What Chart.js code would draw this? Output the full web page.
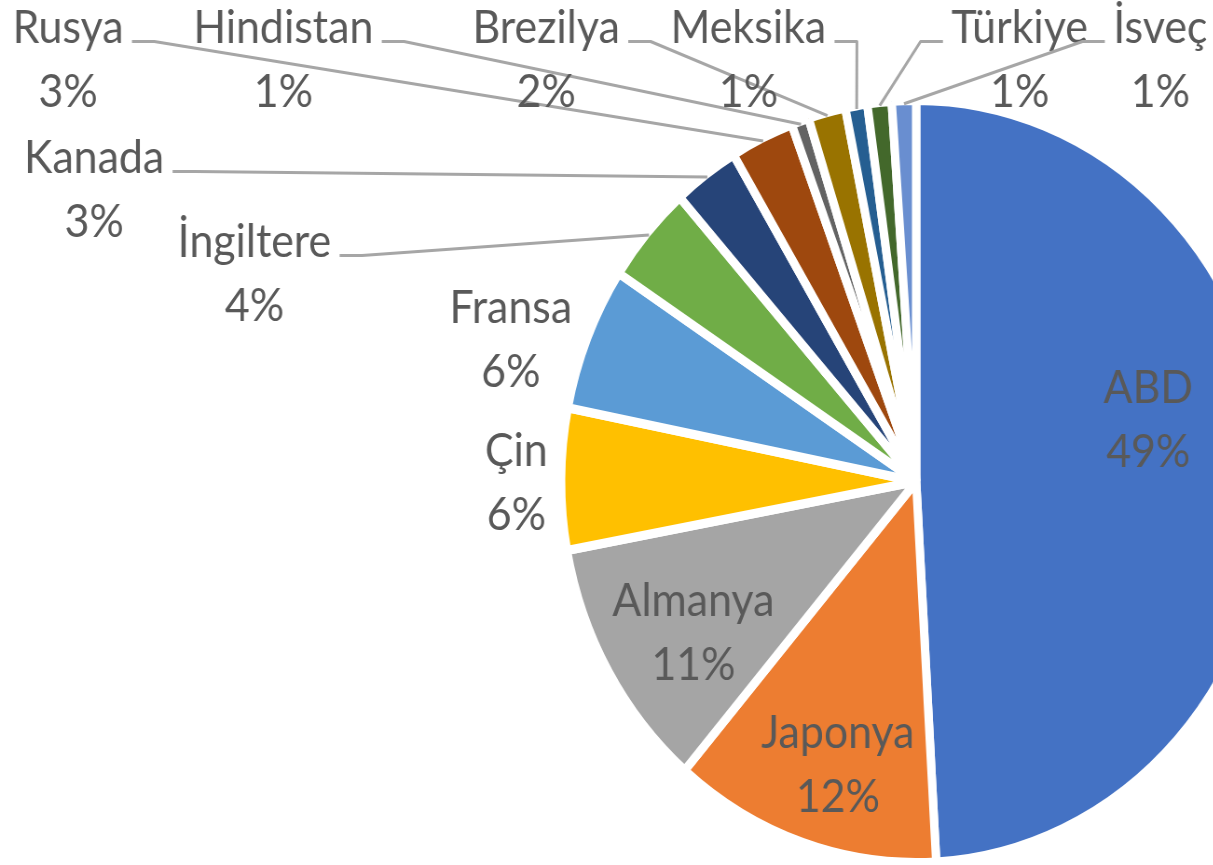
<!DOCTYPE html>
<html><head><meta charset="utf-8">
<script src="https://cdn.jsdelivr.net/npm/chart.js@4.4.1/dist/chart.umd.min.js"></script>
<style>
html,body{margin:0;padding:0;overflow:hidden;background:#ffffff;width:1213px;height:865px}
#wrap{position:absolute;left:0;top:0;width:1966px;height:865px;transform:scaleX(0.932);transform-origin:0 0}
canvas{display:block}
</style></head><body>
<div id="wrap"><canvas id="c" width="1966" height="865"></canvas></div>
<script>
// ---- data ----
const categories = ['ABD','Japonya','Almanya','Çin','Fransa','İngiltere','Kanada','Rusya','Hindistan','Brezilya','Meksika','Türkiye','İsveç'];
const shares = [49.1, 12.2, 10.8, 6.0, 6.1, 4.2, 3.0, 2.9, 0.8, 1.7, 1.0, 1.1, 1.1];
const sliceColors = ['#4472C4','#ED7D31','#A5A5A5','#FFC000','#5B9BD5','#70AD47','#264478','#9E480E','#636363','#997300','#255E91','#43682B','#698ED0'];

// ---- label layout (offsets of name baseline from pie centre, px) ----
const labelOffsets = {
  'ABD':[249,-79], 'Japonya':[-84,266], 'Almanya':[-239,134], 'Çin':[-429,-16],
  'Fransa':[-435,-159], 'İngiltere':[-710,-225], 'Kanada':[-882,-309], 'Rusya':[-910,-439],
  'Hindistan':[-679,-439], 'Brezilya':[-397,-439], 'Meksika':[-180,-439], 'Türkiye':[111,-439], 'İsveç':[262,-439]
};
const withLeader = ['İngiltere','Kanada','Rusya','Hindistan','Brezilya','Meksika','Türkiye','İsveç'];

const FONT = '46px Lato, "Open Sans", sans-serif';
const TEXT = '#595959';
const LINE = '#A6A6A6';

const labelPlugin = {
  id: 'excelLabels',
  afterDatasetsDraw(chart) {
    const ctx = chart.ctx;
    const meta = chart.getDatasetMeta(0);
    const data = chart.data.datasets[0].data;
    const total = data.reduce((a, b) => a + b, 0);
    ctx.save();
    ctx.font = FONT;
    ctx.textBaseline = 'alphabetic';
    ctx.textAlign = 'center';
    meta.data.forEach((arc, i) => {
      const name = chart.data.labels[i];
      const off = labelOffsets[name];
      const p = arc.getProps(['x','y','startAngle','endAngle','outerRadius'], true);
      const lx = p.x + off[0];
      const ly = p.y + off[1];
      const pct = Math.round(data[i] / total * 100) + '%';
      if (withLeader.includes(name)) {
        const mid = (p.startAngle + p.endAngle) / 2;
        const r = p.outerRadius - 3;
        const ax = p.x + Math.cos(mid) * r;
        const ay = p.y + Math.sin(mid) * r;
        const w = ctx.measureText(name).width;
        const dir = ax >= lx ? 1 : -1;
        const sx = lx + dir * (w / 2 + 9);
        const sy = ly - 1;
        const hx = sx + dir * 24;
        ctx.beginPath();
        ctx.moveTo(sx, sy);
        ctx.lineTo(hx, sy);
        ctx.lineTo(ax, ay);
        ctx.strokeStyle = LINE;
        ctx.lineWidth = 3;
        ctx.lineJoin = 'round';
        ctx.stroke();
      }
      ctx.fillStyle = TEXT;
      ctx.fillText(name, lx, ly);
      ctx.fillText(pct, lx, ly + 64);
    });
    ctx.restore();
  }
};

new Chart(document.getElementById('c'), {
  type: 'pie',
  data: {
    labels: categories,
    datasets: [{
      data: shares,
      backgroundColor: sliceColors,
      borderColor: '#ffffff',
      borderWidth: 9
    }]
  },
  options: {
    responsive: false,
    animation: false,
    events: [],
    radius: 381,
    layout: { padding: { top: 98, bottom: 0, left: 0, right: 0 } },
    plugins: { legend: { display: false }, tooltip: { enabled: false } }
  },
  plugins: [labelPlugin]
});
</script>
</body></html>
